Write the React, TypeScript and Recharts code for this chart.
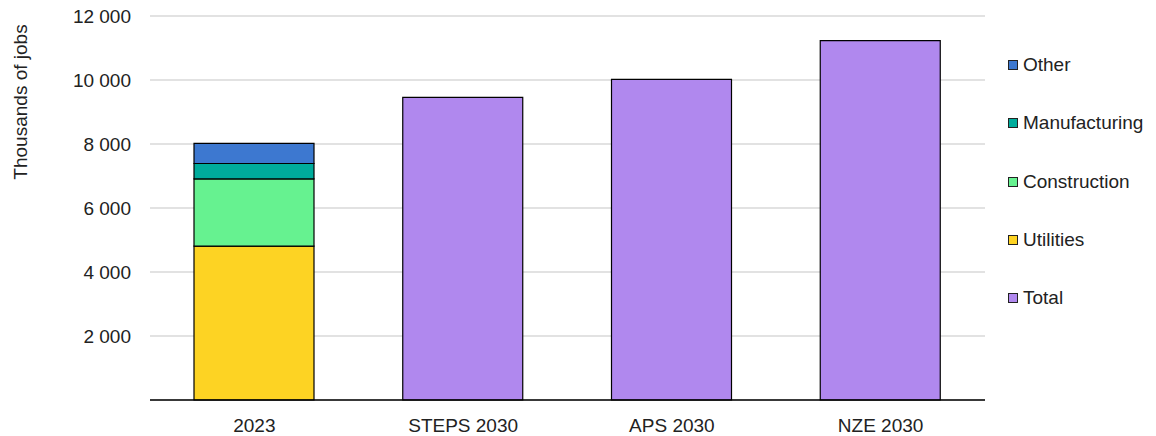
import { BarChart, Bar, XAxis, YAxis, CartesianGrid } from 'recharts'

const categories = ['2023', 'STEPS 2030', 'APS 2030', 'NZE 2030']
const utilities = [4810, null, null, null]
const construction = [2100, null, null, null]
const manufacturing = [480, null, null, null]
const other = [630, null, null, null]
const total = [null, 9460, 10020, 11230]
const yTicks = [0, 2000, 4000, 6000, 8000, 10000, 12000]

const series = [
  { key: 'utilities', name: 'Utilities', color: '#FDD323' },
  { key: 'construction', name: 'Construction', color: '#66F290' },
  { key: 'manufacturing', name: 'Manufacturing', color: '#00AC9C' },
  { key: 'other', name: 'Other', color: '#3D78D0' },
  { key: 'total', name: 'Total', color: '#B088EE' },
]

const data = categories.map((c, i) => ({
  category: c,
  utilities: utilities[i],
  construction: construction[i],
  manufacturing: manufacturing[i],
  other: other[i],
  total: total[i],
}))

const font = '"Liberation Sans", Arial, sans-serif'
const textColor = '#222'

// Format with a space as thousands separator
function formatTick(value: number): string {
  if (value === 0) return ''
  return String(value).replace(/\B(?=(\d{3})+(?!\d))/g, ' ')
}

export default function App() {
  // legend: stacked parts top-down, then Total
  const legendItems = [...series.slice(0, 4).reverse(), series[4]]
  return (
    <div style={{ position: 'relative', width: 1156, height: 436, fontFamily: font }}>
      <style>{'body { margin: 0; }'}</style>
      <BarChart
        width={1156}
        height={436}
        data={data}
        margin={{ top: 16, right: 171, left: 0, bottom: 0 }}
      >
        <CartesianGrid vertical={false} stroke="#D9D9D9" strokeWidth={1.5} />
        <XAxis
          dataKey="category"
          height={36}
          tickLine={false}
          tickMargin={13}
          axisLine={{ stroke: '#000', strokeWidth: 1.5 }}
          tick={{ fill: textColor, fontSize: 19, fontFamily: font }}
        />
        <YAxis
          width={150}
          domain={[0, 12000]}
          ticks={yTicks}
          interval={0}
          tickLine={false}
          axisLine={false}
          tickMargin={13}
          tickFormatter={formatTick}
          tick={{ fill: textColor, fontSize: 19, fontFamily: font }}
          label={{
            content: () => (
              <text
                x={27}
                y={102}
                transform="rotate(-90 27 102)"
                textAnchor="middle"
                fill={textColor}
                fontSize={19}
                fontFamily={font}
              >
                Thousands of jobs
              </text>
            ),
          }}
        />
        {series.map((s) => (
          <Bar
            key={s.key}
            dataKey={s.key}
            name={s.name}
            stackId="a"
            fill={s.color}
            stroke="#000"
            strokeWidth={1.2}
            barSize={120}
            isAnimationActive={false}
          />
        ))}
      </BarChart>
      <div style={{ position: 'absolute', left: 1008, top: 0 }}>
        {legendItems.map((s, i) => (
          <div
            key={s.key}
            style={{
              position: 'absolute',
              top: 65 + i * 58.3 - 11,
              left: 0,
              height: 22,
              display: 'flex',
              alignItems: 'center',
              whiteSpace: 'nowrap',
              fontSize: 19,
              color: textColor,
            }}
          >
            <span
              style={{
                display: 'inline-block',
                width: 8,
                height: 8,
                background: s.color,
                border: '1px solid #222',
                marginRight: 5,
              }}
            />
            {s.name}
          </div>
        ))}
      </div>
    </div>
  )
}
